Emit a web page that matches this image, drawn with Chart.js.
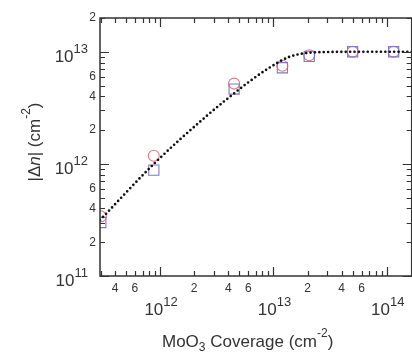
<!DOCTYPE html>
<html><head><meta charset="utf-8">
<script src="https://cdn.jsdelivr.net/npm/chart.js@4/dist/chart.umd.min.js"></script>
<style>html,body{margin:0;padding:0;background:#fff;overflow:hidden}#wrap{width:420px;height:354px}</style>
</head><body><div id="wrap"><canvas id="c" width="420" height="354"></canvas></div>
<script>
// ---- data ----
const coverage      = [3.0e11, 8.8e11, 4.5e12, 1.2e13, 2.07e13, 5.0e13, 1.15e14];
const deltaNCircle  = [3.4e11, 1.18e12, 5.2e12, 7.5e12, 9.3e12, 1.0e13, 1.0e13];
const deltaNSquare  = [3.0e11, 8.8e11, 4.65e12, 7.2e12, 9.1e12, 1.0e13, 1.0e13];
const fitCoverage   = [2.95e11, 9.0e11, 2.6e12, 4.1e12, 6.1e12, 9.2e12, 1.38e13, 2.07e13, 3.1e13, 6.0e13, 1.2e14, 1.7e14];
const fitDeltaN     = [3.15e11, 1.02e12, 2.7e12, 3.95e12, 5.4e12, 7.2e12, 9.0e12, 9.8e12, 9.95e12, 1.0e13, 1.0e13, 1.0e13];
// ---- tick labels ----
const xDecadeExps = ['12', '13', '14'];
const yDecadeExps = ['11', '12', '13'];
const xMinorLabelVals = [4e11, 6e11, 2e12, 4e12, 6e12, 2e13, 4e13, 6e13];
const xMinorLabels    = ['4', '6', '2', '4', '6', '2', '4', '6'];
const yMinorLabelVals = [2e11, 4e11, 6e11, 2e12, 4e12, 6e12, 2e13];
const yMinorLabels    = ['2', '4', '6', '2', '4', '6', '2'];
const xRange = [2.95e11, 1.66e14];
const yRange = [1e11, 2e13];

const FONT = '"Liberation Sans", Arial, sans-serif';
const INK = '#333';

function pts(xs, ys) { return xs.map((x, i) => ({x: x, y: ys[i]})); }

function tickValues(min, max) {
  const out = [];
  for (let e = Math.floor(Math.log10(min)); e <= Math.ceil(Math.log10(max)); e++) {
    for (let m = 1; m <= 9; m++) {
      const v = m * Math.pow(10, e);
      if (v >= min * 0.999 && v <= max * 1.001) out.push({v: v, major: m === 1});
    }
  }
  return out;
}

function drawPow(ctx, x, y, exp, align) {
  ctx.font = '17px ' + FONT;
  const w10 = ctx.measureText('10').width;
  ctx.font = '13px ' + FONT;
  const ws = ctx.measureText(exp).width;
  let s = align === 'right' ? x - (w10 + ws) : x - (w10 + ws) / 2;
  ctx.textAlign = 'left';
  ctx.textBaseline = 'alphabetic';
  ctx.font = '17px ' + FONT;
  ctx.fillText('10', s, y);
  ctx.font = '13px ' + FONT;
  ctx.fillText(exp, s + w10, y - 9);
}

const axesPlugin = {
  id: 'axesPlugin',
  afterDraw(chart) {
    const ctx = chart.ctx, a = chart.chartArea;
    const xs = chart.scales.x, ys = chart.scales.y;
    ctx.save();
    ctx.strokeStyle = INK; ctx.fillStyle = INK;
    ctx.lineWidth = 1.5;
    ctx.beginPath();
    ctx.rect(a.left, a.top, a.right - a.left, a.bottom - a.top);
    ctx.stroke();
    ctx.lineWidth = 1.2;
    tickValues(xRange[0], xRange[1]).forEach(t => {
      const px = Math.round(xs.getPixelForValue(t.v)) + 0.5;
      const L = t.major ? 9 : 5;
      ctx.beginPath();
      ctx.moveTo(px, a.bottom); ctx.lineTo(px, a.bottom - L);
      ctx.moveTo(px, a.top); ctx.lineTo(px, a.top + L);
      ctx.stroke();
    });
    tickValues(yRange[0], yRange[1]).forEach(t => {
      const py = Math.round(ys.getPixelForValue(t.v)) + 0.5;
      const L = t.major ? 9 : 5;
      ctx.beginPath();
      ctx.moveTo(a.left, py); ctx.lineTo(a.left + L, py);
      ctx.moveTo(a.right, py); ctx.lineTo(a.right - L, py);
      ctx.stroke();
    });
    ctx.font = '12px ' + FONT;
    ctx.textAlign = 'center'; ctx.textBaseline = 'alphabetic';
    xMinorLabelVals.forEach((v, i) => ctx.fillText(xMinorLabels[i], xs.getPixelForValue(v), a.bottom + 16));
    ctx.textAlign = 'right'; ctx.textBaseline = 'middle';
    yMinorLabelVals.forEach((v, i) => ctx.fillText(yMinorLabels[i], a.left - 4, ys.getPixelForValue(v)));
    xDecadeExps.forEach(e => drawPow(ctx, xs.getPixelForValue(Math.pow(10, +e)) + 1, a.bottom + 39, e, 'center'));
    yDecadeExps.forEach(e => drawPow(ctx, a.left - 12, ys.getPixelForValue(Math.pow(10, +e)) + 10, e, 'right'));
    let x = 162, yb = 347;
    ctx.textAlign = 'left'; ctx.textBaseline = 'alphabetic';
    const seg = (txt, f, dy) => { ctx.font = f; ctx.fillText(txt, x, yb + dy); x += ctx.measureText(txt).width; };
    seg('MoO', '17px ' + FONT, 0);
    seg('3', '12px ' + FONT, 4);
    seg(' Coverage (cm', '17px ' + FONT, 0);
    seg('-2', '12px ' + FONT, -10);
    seg(')', '17px ' + FONT, 0);
    ctx.translate(40, 142);
    ctx.rotate(-Math.PI / 2);
    const parts = [['|\u0394', '17px ' + FONT, 0], ['n', 'italic 17px ' + FONT, 0], ['| (cm', '17px ' + FONT, 0], ['-2', '12px ' + FONT, -10], [')', '17px ' + FONT, 0]];
    let tw = 0;
    parts.forEach(p => { ctx.font = p[1]; tw += ctx.measureText(p[0]).width; });
    let cx = -tw / 2;
    parts.forEach(p => { ctx.font = p[1]; ctx.fillText(p[0], cx, p[2]); cx += ctx.measureText(p[0]).width; });
    ctx.restore();
  }
};

new Chart(document.getElementById('c'), {
  type: 'scatter',
  data: {
    datasets: [
      {
        label: 'fit', data: pts(fitCoverage, fitDeltaN), showLine: true, order: 0,
        borderColor: '#111', borderWidth: 2.7, borderDash: [0, 4.4], borderCapStyle: 'round',
        pointRadius: 0, cubicInterpolationMode: 'monotone', fill: false
      },
      {
        label: 'circle', data: pts(coverage, deltaNCircle), order: 2,
        pointStyle: 'circle', pointRadius: 5.5, borderColor: '#e07886', backgroundColor: 'rgba(0,0,0,0)', borderWidth: 1.1
      },
      {
        label: 'square', data: pts(coverage, deltaNSquare), order: 1,
        pointStyle: 'rect', pointRadius: 7.2, borderColor: '#7f78c4', backgroundColor: 'rgba(0,0,0,0)', borderWidth: 1.1
      }
    ]
  },
  options: {
    responsive: false, animation: false, events: [],
    layout: {padding: {left: 100, top: 18, right: 7, bottom: 78}},
    plugins: {legend: {display: false}, tooltip: {enabled: false}},
    scales: {
      x: {type: 'logarithmic', min: xRange[0], max: xRange[1], display: false},
      y: {type: 'logarithmic', min: yRange[0], max: yRange[1], display: false}
    }
  },
  plugins: [axesPlugin]
});
</script></body></html>
